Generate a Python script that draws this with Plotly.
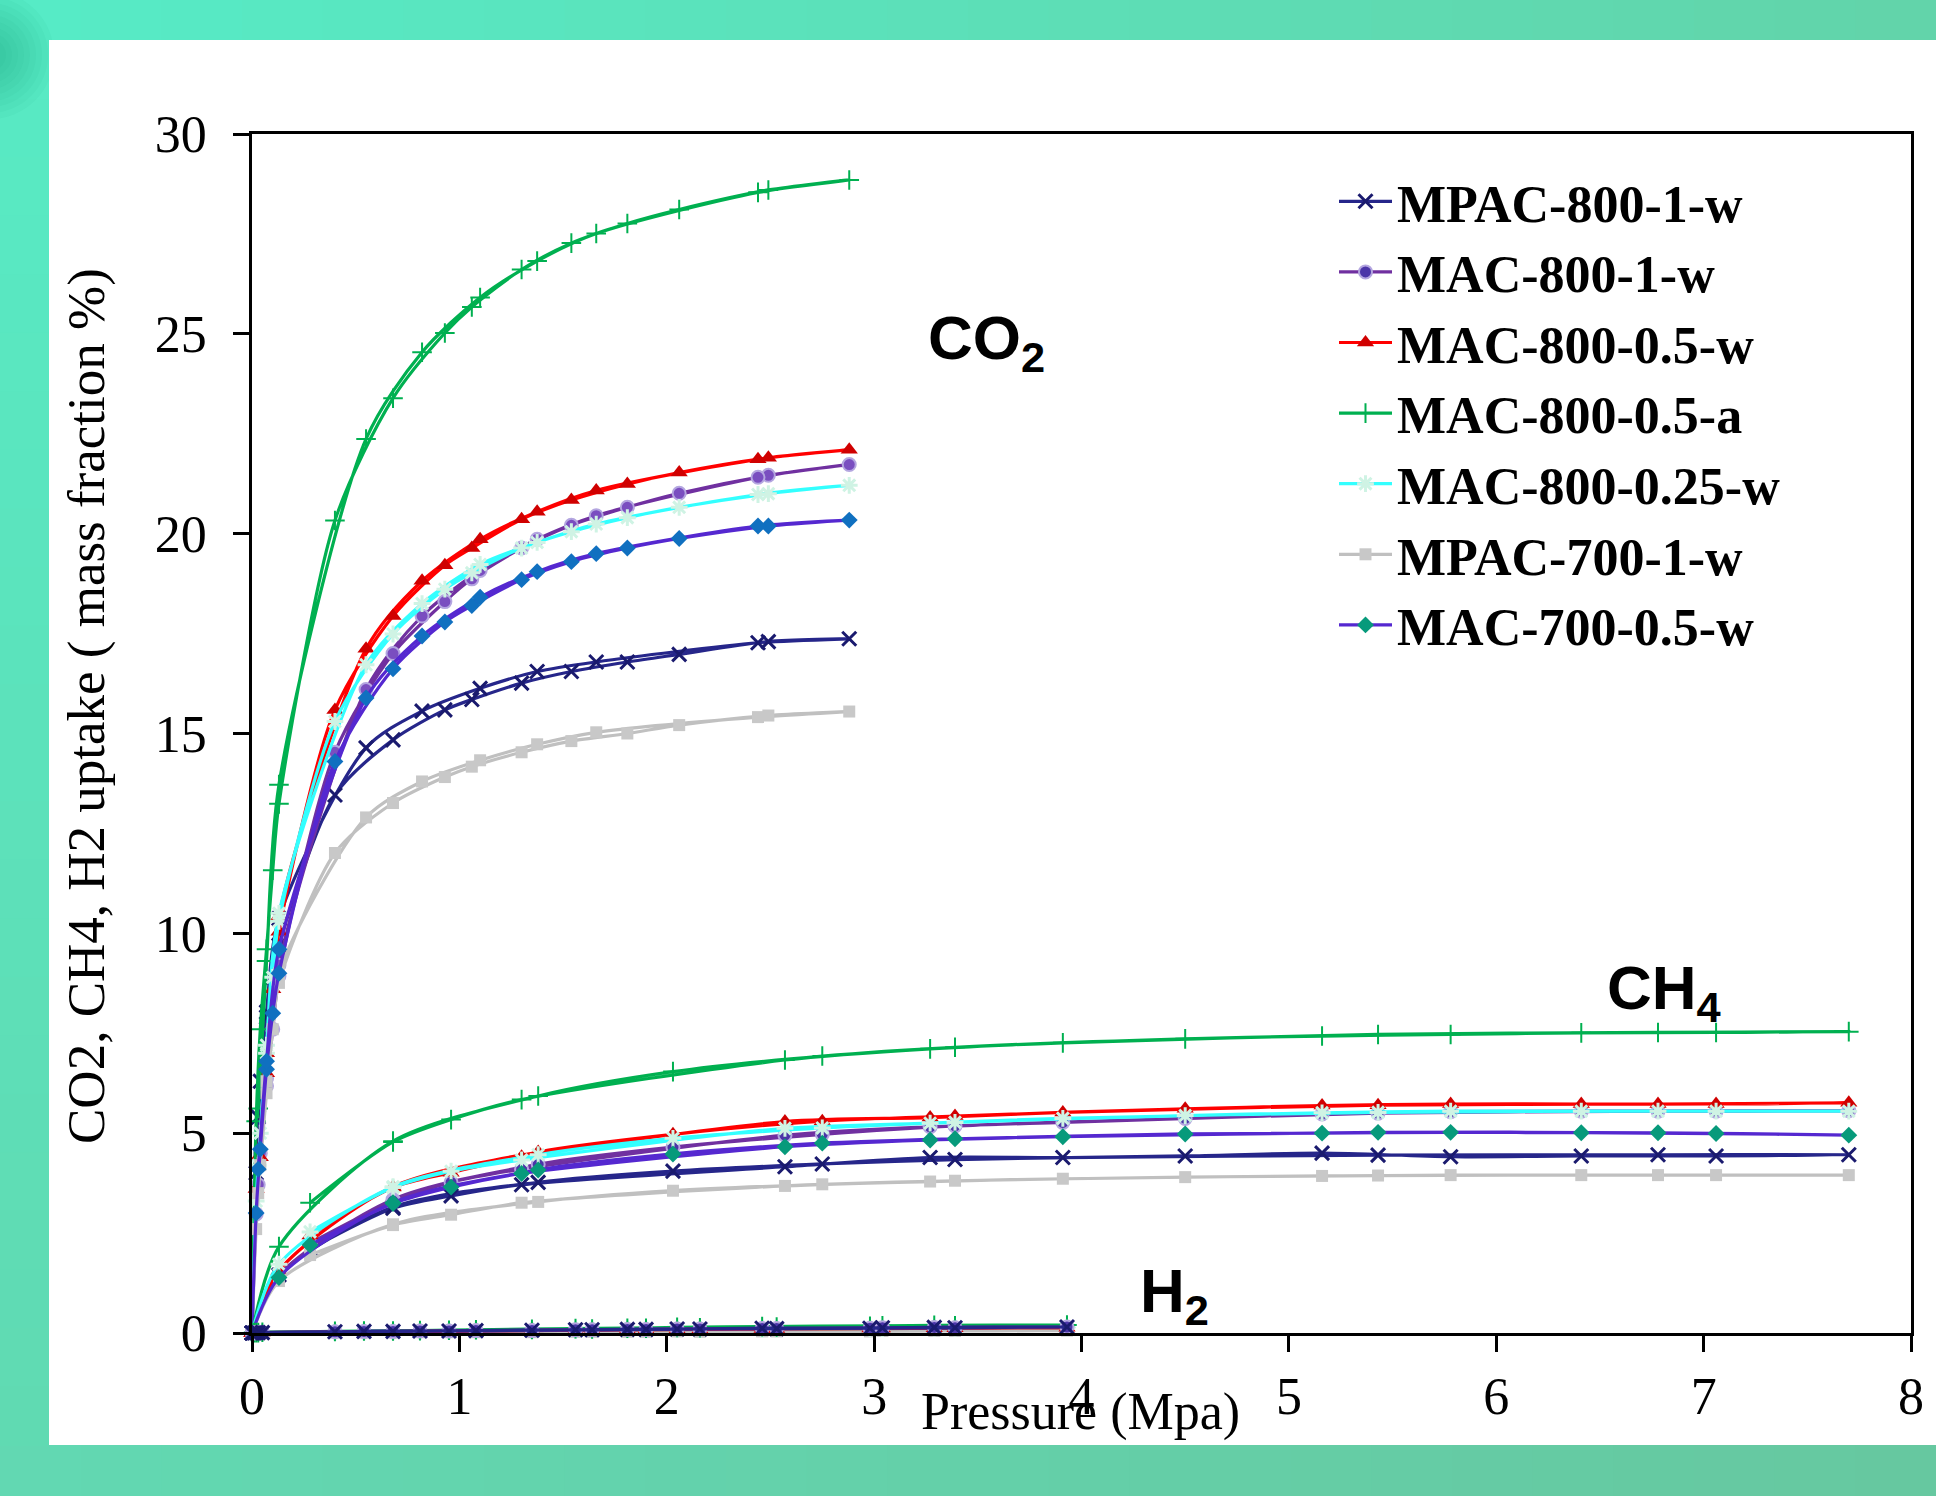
import plotly.graph_objects as go

# ---------------- data ----------------
SERIES = ["MPAC-800-1-w", "MAC-800-1-w", "MAC-800-0.5-w", "MAC-800-0.5-a",
          "MAC-800-0.25-w", "MPAC-700-1-w", "MAC-700-0.5-w"]

# pressure sequences: adsorption (rising) then desorption (falling), MPa
P_CO2 = [0, 0.02, 0.04, 0.07, 0.10, 0.13, 0.40, 0.68, 0.93, 1.06, 1.30, 1.54, 1.81, 2.06, 2.49, 2.88,
         2.44, 1.66, 1.375, 1.10, 0.82, 0.55, 0.13, 0.07, 0.03]
P_CH4 = [0, 0.13, 0.68, 1.38, 2.03, 2.75, 3.39, 4.50, 5.16, 5.78, 6.41, 7.06, 7.70,
         6.78, 5.43, 3.91, 3.27, 2.57, 1.30, 0.96, 0.68, 0.28]
P_H2 = [0, 0.01, 0.02, 0.03, 0.05, 0.40, 0.68, 0.95, 1.35, 1.64, 1.90, 2.16, 2.53, 2.98, 3.39, 3.93,
        3.29, 3.04, 2.46, 2.05, 1.81, 1.56, 1.08, 0.81, 0.54]

CO2_MPAC_800_1_w = [0, 4.0, 6.3, 7.9, 8.9, 9.7, 13.46, 14.84, 15.59, 15.85, 16.26, 16.55, 16.79, 16.98, 17.30, 17.37,
                    17.27, 16.79, 16.55, 16.13, 15.56, 14.64, 10.37, 8.03, 5.40]
CO2_MAC_800_1_w = [0, 2.98, 4.5, 6.18, 7.6, 8.93, 14.53, 17.00, 18.30, 18.87, 19.64, 20.21, 20.66, 21.01, 21.46, 21.73,
                   21.41, 20.45, 19.86, 19.08, 17.94, 16.10, 9.20, 6.37, 3.71]
CO2_MAC_800_05_w = [0, 3.6, 4.4, 6.5, 8.6, 10.04, 15.59, 17.94, 19.21, 19.64, 20.36, 20.84, 21.24, 21.53, 21.90, 22.10,
                    21.86, 21.08, 20.55, 19.86, 18.82, 17.12, 10.43, 7.0, 4.4]
CO2_MAC_800_05_a = [0, 5.3, 7.6, 9.6, 11.58, 13.24, 20.33, 23.39, 25.02, 25.67, 26.61, 27.27, 27.76, 28.11, 28.60, 28.85,
                    28.54, 27.51, 26.82, 25.91, 24.54, 22.37, 13.72, 9.31, 5.62]
CO2_MAC_800_025_w = [0, 3.3, 5.0, 7.0, 8.9, 10.3, 15.3, 17.49, 18.61, 19.02, 19.64, 20.05, 20.40, 20.66, 21.00, 21.21,
                     20.98, 20.24, 19.78, 19.23, 18.25, 16.72, 10.5, 7.2, 4.2]
CO2_MPAC_700_1_w = [0, 2.6, 4.2, 6.0, 7.6, 8.76, 12.01, 13.26, 13.91, 14.17, 14.53, 14.81, 15.00, 15.21, 15.45, 15.55,
                    15.41, 15.03, 14.73, 14.33, 13.80, 12.90, 9.0, 6.3, 3.5]
CO2_MAC_700_05_w = [0, 3.0, 4.6, 6.6, 8.0, 9.0, 14.3, 16.62, 17.79, 18.20, 18.85, 19.30, 19.64, 19.88, 20.19, 20.34,
                    20.19, 19.50, 19.05, 18.41, 17.44, 15.89, 9.6, 6.8, 4.1]

CH4_MPAC_800_1_w = [0, 1.45, 3.15, 3.77, 4.05, 4.23, 4.34, 4.43, 4.50, 4.41, 4.43, 4.43, 4.46,
                    4.46, 4.45, 4.39, 4.39, 4.16, 3.71, 3.43, 3.12, 2.10]
CH4_MAC_800_1_w = [0, 1.44, 3.34, 4.22, 4.65, 4.97, 5.18, 5.37, 5.48, 5.54, 5.55, 5.55, 5.56,
                   5.55, 5.50, 5.27, 5.16, 4.95, 4.10, 3.77, 3.30, 2.25]
CH4_MAC_800_05_w = [0, 1.56, 3.66, 4.53, 4.97, 5.30, 5.43, 5.61, 5.69, 5.73, 5.73, 5.73, 5.76,
                    5.73, 5.70, 5.52, 5.39, 5.29, 4.41, 4.01, 3.64, 2.44]
CH4_MAC_800_05_a = [0, 2.16, 4.80, 5.93, 6.54, 6.93, 7.15, 7.36, 7.43, 7.47, 7.51, 7.52, 7.54,
                    7.52, 7.47, 7.26, 7.11, 6.83, 5.84, 5.34, 4.78, 3.26]
CH4_MAC_800_025_w = [0, 1.72, 3.66, 4.46, 4.87, 5.13, 5.27, 5.44, 5.51, 5.55, 5.55, 5.55, 5.55,
                     5.55, 5.52, 5.37, 5.25, 5.12, 4.33, 4.05, 3.64, 2.53]
CH4_MPAC_700_1_w = [0, 1.30, 2.72, 3.28, 3.56, 3.72, 3.81, 3.90, 3.93, 3.95, 3.95, 3.95, 3.95,
                    3.95, 3.94, 3.86, 3.79, 3.68, 3.26, 2.96, 2.70, 1.95]
CH4_MAC_700_05_w = [0, 1.39, 3.26, 4.08, 4.48, 4.75, 4.86, 4.98, 5.00, 5.02, 5.01, 4.99, 4.95,
                    5.01, 5.02, 4.91, 4.83, 4.66, 3.99, 3.65, 3.24, 2.20]

H2_MPAC_800_1_w = [0, 0, 0.01, 0.01, 0.01, 0.03, 0.04, 0.05, 0.07, 0.08, 0.09, 0.10, 0.11, 0.12, 0.13, 0.15,
                   0.14, 0.13, 0.12, 0.10, 0.09, 0.08, 0.06, 0.05, 0.04]
H2_MAC_800_1_w = [0, 0, 0.01, 0.01, 0.01, 0.03, 0.04, 0.05, 0.06, 0.08, 0.09, 0.10, 0.11, 0.12, 0.13, 0.15,
                  0.14, 0.13, 0.11, 0.10, 0.09, 0.08, 0.06, 0.05, 0.04]
H2_MAC_800_05_w = [0, 0, 0.01, 0.01, 0.01, 0.02, 0.03, 0.04, 0.06, 0.07, 0.08, 0.09, 0.10, 0.11, 0.12, 0.13,
                   0.12, 0.11, 0.10, 0.09, 0.08, 0.07, 0.05, 0.04, 0.03]
H2_MAC_800_05_a = [0, 0.01, 0.01, 0.01, 0.02, 0.04, 0.05, 0.07, 0.09, 0.10, 0.12, 0.13, 0.15, 0.17, 0.18, 0.20,
                   0.19, 0.18, 0.16, 0.14, 0.12, 0.11, 0.08, 0.06, 0.05]
H2_MAC_800_025_w = [0, 0, 0.01, 0.01, 0.01, 0.02, 0.03, 0.04, 0.06, 0.07, 0.08, 0.09, 0.10, 0.11, 0.12, 0.13,
                    0.12, 0.11, 0.10, 0.09, 0.08, 0.07, 0.05, 0.04, 0.03]
H2_MPAC_700_1_w = [0, 0, 0, 0, 0.01, 0.01, 0.01, 0.02, 0.02, 0.03, 0.03, 0.03, 0.04, 0.04, 0.05, 0.06,
                   0.05, 0.05, 0.04, 0.04, 0.03, 0.03, 0.02, 0.02, 0.01]
H2_MAC_700_05_w = [0, 0, 0.01, 0.01, 0.01, 0.03, 0.04, 0.05, 0.07, 0.08, 0.09, 0.10, 0.11, 0.12, 0.13, 0.14,
                   0.13, 0.12, 0.11, 0.10, 0.09, 0.08, 0.06, 0.05, 0.04]

CO2_DATA = [CO2_MPAC_800_1_w, CO2_MAC_800_1_w, CO2_MAC_800_05_w, CO2_MAC_800_05_a,
            CO2_MAC_800_025_w, CO2_MPAC_700_1_w, CO2_MAC_700_05_w]
CH4_DATA = [CH4_MPAC_800_1_w, CH4_MAC_800_1_w, CH4_MAC_800_05_w, CH4_MAC_800_05_a,
            CH4_MAC_800_025_w, CH4_MPAC_700_1_w, CH4_MAC_700_05_w]
H2_DATA = [H2_MPAC_800_1_w, H2_MAC_800_1_w, H2_MAC_800_05_w, H2_MAC_800_05_a,
           H2_MAC_800_025_w, H2_MPAC_700_1_w, H2_MAC_700_05_w]

X_TICKS = [0, 1, 2, 3, 4, 5, 6, 7, 8]
Y_TICKS = [0, 5, 10, 15, 20, 25, 30]

# ---------------- styles ----------------
LINE_COLORS = ["#26268A", "#7030A0", "#FF0000", "#00B050", "#33FFFF", "#C0C0C0", "#5528D0"]
SYMBOLS = ["x-thin", "circle", "triangle-up", "cross-thin", "asterisk", "square", "diamond"]
MK_COLORS = ["#1A1A6E", "#4B35A8", "#D00000", "#00B050", "#CFF3E4", "#C8C8C8", "#079A7B"]
MK_COLORS_CO2 = ["#1A1A6E", "#7A4EC0", "#D00000", "#00B050", "#CFF3E4", "#C8C8C8", "#1070C0"]
MK_LINE = ["#1A1A6E", "#B4A6E0", "#D00000", "#00B050", "#CFF3E4", "#C8C8C8", "#079A7B"]
MK_LW = [3, 2, 0, 2, 3, 0, 0]
MK_SIZE = [14, 13, 15, 14, 14, 12, 13]

SERIF = "Liberation Serif, Times New Roman, serif"
SANS = "Liberation Sans, Arial, sans-serif"

fig = go.Figure()


def add(xs, ys, i, mcolor, show):
    fig.add_trace(go.Scatter(
        x=xs, y=ys, name=SERIES[i], mode="lines+markers", showlegend=show,
        cliponaxis=False,
        line=dict(color=LINE_COLORS[i], width=3.2, shape="spline", smoothing=0.8),
        marker=dict(symbol=SYMBOLS[i], size=MK_SIZE[i], color=mcolor,
                    line=dict(color=MK_LINE[i] if i != 6 else mcolor, width=MK_LW[i])),
    ))


for i in range(7):
    add(P_CO2, CO2_DATA[i], i, MK_COLORS_CO2[i], False)
for i in range(7):
    add(P_CH4, CH4_DATA[i], i, MK_COLORS[i], True)
for i in reversed(range(7)):
    add(P_H2, H2_DATA[i], i, MK_COLORS[i], False)

# ---------------- background frame ----------------
W, H = 1936, 1496
L, R, T, B = 252, 25, 134, 163
PW, PH = W - L - R, H - T - B


def px(x):
    return (x - L) / PW


def py(y):
    return (H - B - y) / PH


def mix(c1, c2, t):
    return "rgb(%d,%d,%d)" % tuple(round(a + (b - a) * t) for a, b in zip(c1, c2))


shapes = []
N = 24
for k in range(N):
    t = k / (N - 1)
    x0, x1 = W * k / N, W * (k + 1) / N + 1
    shapes.append(dict(type="rect", xref="paper", yref="paper", x0=px(x0), x1=px(x1),
                       y0=py(0), y1=py(40), fillcolor=mix((86, 235, 198), (98, 212, 170), t),
                       line=dict(width=0), layer="below"))
    shapes.append(dict(type="rect", xref="paper", yref="paper", x0=px(x0), x1=px(x1),
                       y0=py(1445), y1=py(H), fillcolor=mix((98, 216, 178), (102, 200, 160), t),
                       line=dict(width=0), layer="below"))
for k in range(N):
    t = k / (N - 1)
    y0, y1 = 40 + (1445 - 40) * k / N, 40 + (1445 - 40) * (k + 1) / N + 1
    shapes.append(dict(type="rect", xref="paper", yref="paper", x0=px(0), x1=px(49),
                       y0=py(y0), y1=py(y1), fillcolor=mix((88, 234, 196), (96, 218, 178), t),
                       line=dict(width=0), layer="below"))
# darker soft patch in the top-left corner of the frame
for r_ in range(64, 8, -6):
    shapes.append(dict(type="circle", xref="paper", yref="paper", x0=px(-r_ - 10), x1=px(r_ - 10),
                       y0=py(55 - r_), y1=py(55 + r_), fillcolor="rgba(20,150,110,0.05)",
                       line=dict(width=0), layer="below"))
shapes.append(dict(type="rect", xref="paper", yref="paper", x0=px(49), x1=px(W),
                   y0=py(40), y1=py(1445), fillcolor="white", line=dict(width=0), layer="below"))

annotations = [
    dict(text="CO2, CH4, H2 uptake ( mass fraction %)", textangle=-90,
         xref="paper", yref="paper", x=px(86), y=py(706), showarrow=False,
         xanchor="center", yanchor="middle", font=dict(family=SERIF, size=53, color="black")),
    dict(text="Pressure (Mpa)", xref="paper", yref="paper", x=px(1080), y=py(1412),
         showarrow=False, xanchor="center", yanchor="middle",
         font=dict(family=SERIF, size=52, color="black")),
    dict(text="<b>CO<sub>2</sub></b>", xref="paper", yref="paper", x=px(926), y=py(342),
         showarrow=False, xanchor="left", yanchor="middle",
         font=dict(family=SANS, size=62, color="black")),
    dict(text="<b>CH<sub>4</sub></b>", xref="paper", yref="paper", x=px(1605), y=py(992),
         showarrow=False, xanchor="left", yanchor="middle",
         font=dict(family=SANS, size=62, color="black")),
    dict(text="<b>H<sub>2</sub></b>", xref="paper", yref="paper", x=px(1138), y=py(1295),
         showarrow=False, xanchor="left", yanchor="middle",
         font=dict(family=SANS, size=62, color="black")),
]

axis_common = dict(showgrid=False, zeroline=False, showline=True, linecolor="black", linewidth=2.5,
                   mirror=True, ticks="outside", ticklen=16, tickwidth=2.5, tickcolor="black",
                   tickfont=dict(family=SERIF, size=52, color="black"))

fig.update_layout(
    width=W, height=H,
    margin=dict(l=L, r=R, t=T, b=B, pad=0),
    paper_bgcolor="white", plot_bgcolor="white",
    xaxis=dict(range=[0, 8], tickvals=X_TICKS, **axis_common),
    yaxis=dict(range=[0, 30], tickvals=Y_TICKS, ticklabelstandoff=16, **axis_common),
    legend=dict(x=px(1334), y=py(161), xanchor="left", yanchor="top",
                bgcolor="rgba(0,0,0,0)", itemwidth=53, tracegroupgap=0,
                font=dict(family=SERIF, size=52, color="black", weight="bold")),
    shapes=shapes, annotations=annotations,
)

fig.write_html("out.html")
